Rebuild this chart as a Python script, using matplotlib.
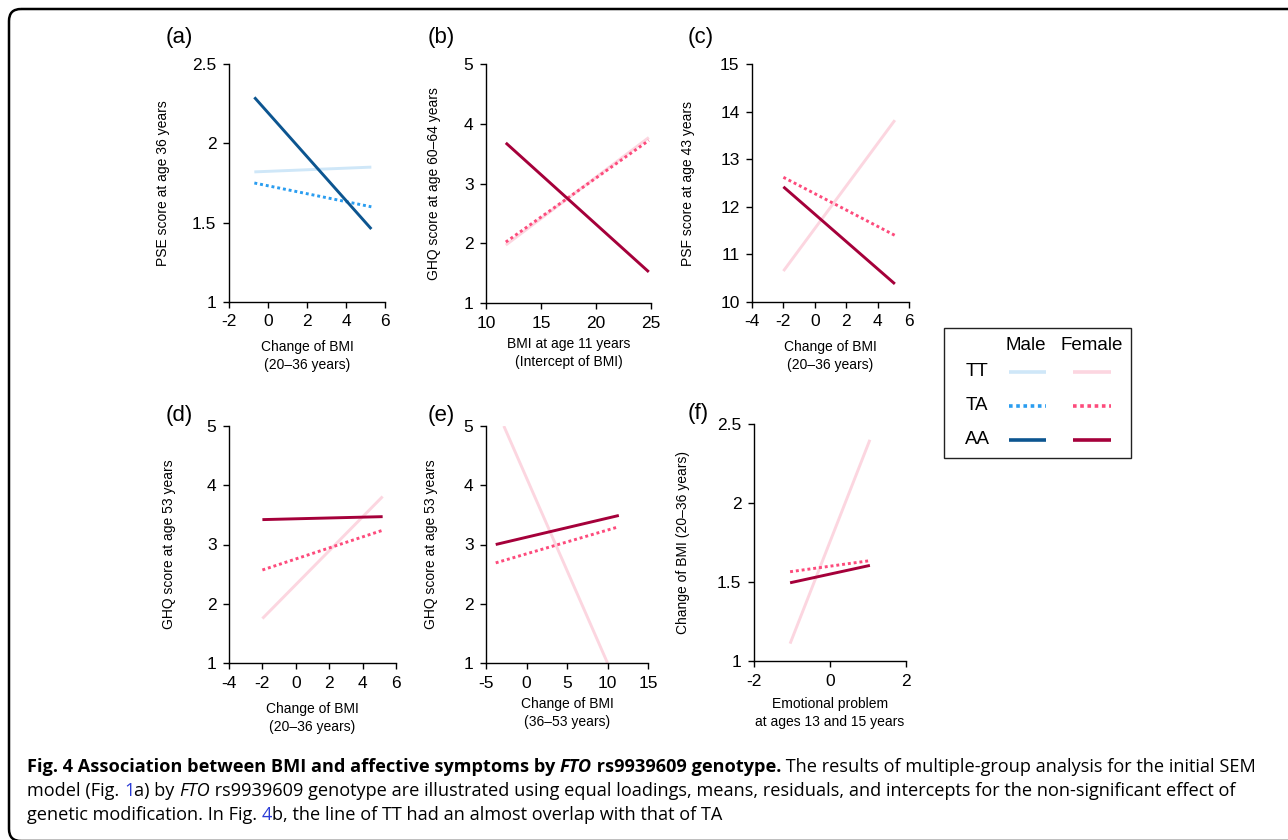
import matplotlib
matplotlib.use('Agg')
import matplotlib.pyplot as plt
from matplotlib.patches import FancyBboxPatch, Rectangle
from matplotlib.lines import Line2D

plt.rcParams['font.family'] = ['Liberation Sans', 'DejaVu Sans']

W, H = 1288, 840

# colours per genotype
male_col = {'TT': '#cfe7f8', 'TA': '#2a9df0', 'AA': '#0c5590'}
female_col = {'TT': '#fcd6e0', 'TA': '#fd4b7c', 'AA': '#a5003a'}
styles = {'TT': '-', 'TA': (0, (1, 1)), 'AA': '-'}

# panel (a): male, PSE score at 36
a_x = [-0.7, 5.3]
a_TT = [1.82, 1.85]
a_TA = [1.75, 1.60]
a_AA = [2.29, 1.46]

# panel (b): female, GHQ 60-64
b_x = [11.8, 24.8]
b_TT = [1.97, 3.77]
b_TA = [2.02, 3.72]
b_AA = [3.68, 1.52]

# panel (c): female, PSF 43
c_x = [-2.0, 5.1]
c_TT = [10.65, 13.82]
c_TA = [12.62, 11.40]
c_AA = [12.42, 10.38]

# panel (d): female, GHQ 53 vs change 20-36
d_x = [-2.0, 5.2]
d_TT = [1.75, 3.81]
d_TA = [2.57, 3.24]
d_AA = [3.42, 3.47]

# panel (e): female, GHQ 53 vs change 36-53
e_x_TT = [-2.8, 10.0]
e_TT = [5.0, 1.0]
e_x = [-3.8, 11.4]
e_TA = [2.69, 3.30]
e_AA = [3.00, 3.49]

# panel (f): female, change of BMI vs emotional problem
f_x = [-1.05, 1.05]
f_TT = [1.11, 2.40]
f_TA = [1.565, 1.635]
f_AA = [1.495, 1.605]

fig = plt.figure(figsize=(W / 100, H / 100), dpi=100)


def px_axes(x0, x1, y0, y1):
    return fig.add_axes([x0 / W, 1 - y1 / H, (x1 - x0) / W, (y1 - y0) / H])


def style_ax(ax, box, xlim, xticks, ylim, yticks, xlabel, ylabel, label, lab_xy, ylab_x, xlab_top):
    x0, x1, y0, y1 = box
    ax.set_xlim(xlim)
    ax.set_ylim(ylim)
    ax.set_xticks(xticks)
    ax.set_yticks(yticks)
    ax.set_xticklabels([str(t) for t in xticks])
    ax.set_yticklabels([('%g' % t) for t in yticks])
    for s in ['top', 'right']:
        ax.spines[s].set_visible(False)
    for s in ['left', 'bottom']:
        ax.spines[s].set_linewidth(1.0)
    ax.tick_params(direction='out', length=4, width=1.0, labelsize=12.5)
    ax.tick_params(axis='x', pad=5)
    ax.tick_params(axis='y', pad=5)
    ax.set_xlabel(xlabel, fontsize=10, linespacing=1.4)
    ax.set_ylabel(ylabel, fontsize=10)
    # place labels by pixel position
    ax.yaxis.set_label_coords((ylab_x - x0) / (x1 - x0), 0.5)
    ax.xaxis.set_label_coords(0.5, (y1 - xlab_top) / (y1 - y0))
    ax.patch.set_visible(False)
    fig.text(lab_xy[0] / W, 1 - lab_xy[1] / H, label, fontsize=16, va='center', ha='left')


def draw(ax, x, ys, cols, xs_tt=None):
    for g in ['TT', 'TA', 'AA']:
        xx = xs_tt if (g == 'TT' and xs_tt is not None) else x
        ax.plot(xx, ys[g], color=cols[g], linestyle=styles[g], lw=2.1,
                solid_capstyle='butt', dash_capstyle='butt')


box = (229, 385, 64, 302)
ax = px_axes(*box)
draw(ax, a_x, {'TT': a_TT, 'TA': a_TA, 'AA': a_AA}, male_col)
style_ax(ax, box, (-2, 6), [-2, 0, 2, 4, 6], (1, 2.5), [1, 1.5, 2, 2.5],
         'Change of BMI\n(20\u201336 years)', 'PSE score at age 36 years', '(a)', (166, 38), 170, 340)

box = (486, 651, 64, 303)
ax = px_axes(*box)
draw(ax, b_x, {'TT': b_TT, 'TA': b_TA, 'AA': b_AA}, female_col)
style_ax(ax, box, (10, 25), [10, 15, 20, 25], (1, 5), [1, 2, 3, 4, 5],
         'BMI at age 11 years\n(Intercept of BMI)', 'GHQ score at age 60\u201364 years', '(b)', (428, 38), 441, 337)

box = (752, 909, 64, 302)
ax = px_axes(*box)
draw(ax, c_x, {'TT': c_TT, 'TA': c_TA, 'AA': c_AA}, female_col)
style_ax(ax, box, (-4, 6), [-4, -2, 0, 2, 4, 6], (10, 15), [10, 11, 12, 13, 14, 15],
         'Change of BMI\n(20\u201336 years)', 'PSF score at age 43 years', '(c)', (688, 38), 695, 340)

box = (229, 396, 426, 663)
ax = px_axes(*box)
draw(ax, d_x, {'TT': d_TT, 'TA': d_TA, 'AA': d_AA}, female_col)
style_ax(ax, box, (-4, 6), [-4, -2, 0, 2, 4, 6], (1, 5), [1, 2, 3, 4, 5],
         'Change of BMI\n(20\u201336 years)', 'GHQ score at age 53 years', '(d)', (166, 416), 176, 702)

box = (486, 648, 426, 663)
ax = px_axes(*box)
draw(ax, e_x, {'TT': e_TT, 'TA': e_TA, 'AA': e_AA}, female_col, xs_tt=e_x_TT)
style_ax(ax, box, (-5, 15), [-5, 0, 5, 10, 15], (1, 5), [1, 2, 3, 4, 5],
         'Change of BMI\n(36\u201353 years)', 'GHQ score at age 53 years', '(e)', (428, 416), 438, 697)

box = (754, 906, 424, 661)
ax = px_axes(*box)
draw(ax, f_x, {'TT': f_TT, 'TA': f_TA, 'AA': f_AA}, female_col)
style_ax(ax, box, (-2, 2), [-2, 0, 2], (1, 2.5), [1, 1.5, 2, 2.5],
         'Emotional problem\nat ages 13 and 15 years', 'Change of BMI (20\u201336 years)', '(f)', (688, 413), 690, 697)

# overlay axes in pixel coordinates
ov = fig.add_axes([0, 0, 1, 1])
ov.set_xlim(0, W)
ov.set_ylim(H, 0)
ov.axis('off')
ov.patch.set_visible(False)

# legend box
ov.add_patch(Rectangle((944, 328), 187, 130, fill=False, ec='#222222', lw=1.0))
ov.text(1026, 346, 'Male', fontsize=13.5, ha='center', va='center')
ov.text(1092, 346, 'Female', fontsize=13.5, ha='center', va='center')
for i, g in enumerate(['TT', 'TA', 'AA']):
    yy = 372 + i * 34
    ov.text(977, yy, g, fontsize=13.5, ha='center', va='center')
    ov.add_line(Line2D([1009, 1046], [yy, yy], color=male_col[g], ls=styles[g], lw=2.6,
                       solid_capstyle='butt', dash_capstyle='butt'))
    ov.add_line(Line2D([1073, 1111], [yy, yy], color=female_col[g], ls=styles[g], lw=2.6,
                       solid_capstyle='butt', dash_capstyle='butt'))

# rounded frame around the whole figure
ov.add_patch(FancyBboxPatch((9, 9), 1320, 832, boxstyle='round,pad=0,rounding_size=12',
                            fill=False, ec='black', lw=1.8, clip_on=True))

# caption
cap_font = ['Open Sans', 'DejaVu Sans']
cap_size = 13.1
cap_y = [767, 791, 815]
link = '#2a3bd6'
fig.canvas.draw()
r = fig.canvas.get_renderer()


def put(x, y, s, **kw):
    tt = ov.text(x, y, s, fontsize=cap_size, family=cap_font, va='center', **kw)
    bb = tt.get_window_extent(renderer=r)
    return x + bb.width


x = put(27, cap_y[0], 'Fig. 4 Association between BMI and affective symptoms by ', weight='bold')
x = put(x, cap_y[0], 'FTO', weight='bold', style='italic')
x = put(x, cap_y[0], ' rs9939609 genotype.', weight='bold')
x = put(x, cap_y[0], ' The results of multiple-group analysis for the initial SEM')

x = put(27, cap_y[1], 'model (Fig. ')
x = put(x, cap_y[1], '1', color=link)
x = put(x, cap_y[1], 'a) by ')
x = put(x, cap_y[1], 'FTO', style='italic')
x = put(x, cap_y[1], ' rs9939609 genotype are illustrated using equal loadings, means, residuals, and intercepts for the non-significant effect of')

x = put(27, cap_y[2], 'genetic modification. In Fig. ')
x = put(x, cap_y[2], '4', color=link)
x = put(x, cap_y[2], 'b, the line of TT had an almost overlap with that of TA')

fig.savefig('out.png', dpi=100)
